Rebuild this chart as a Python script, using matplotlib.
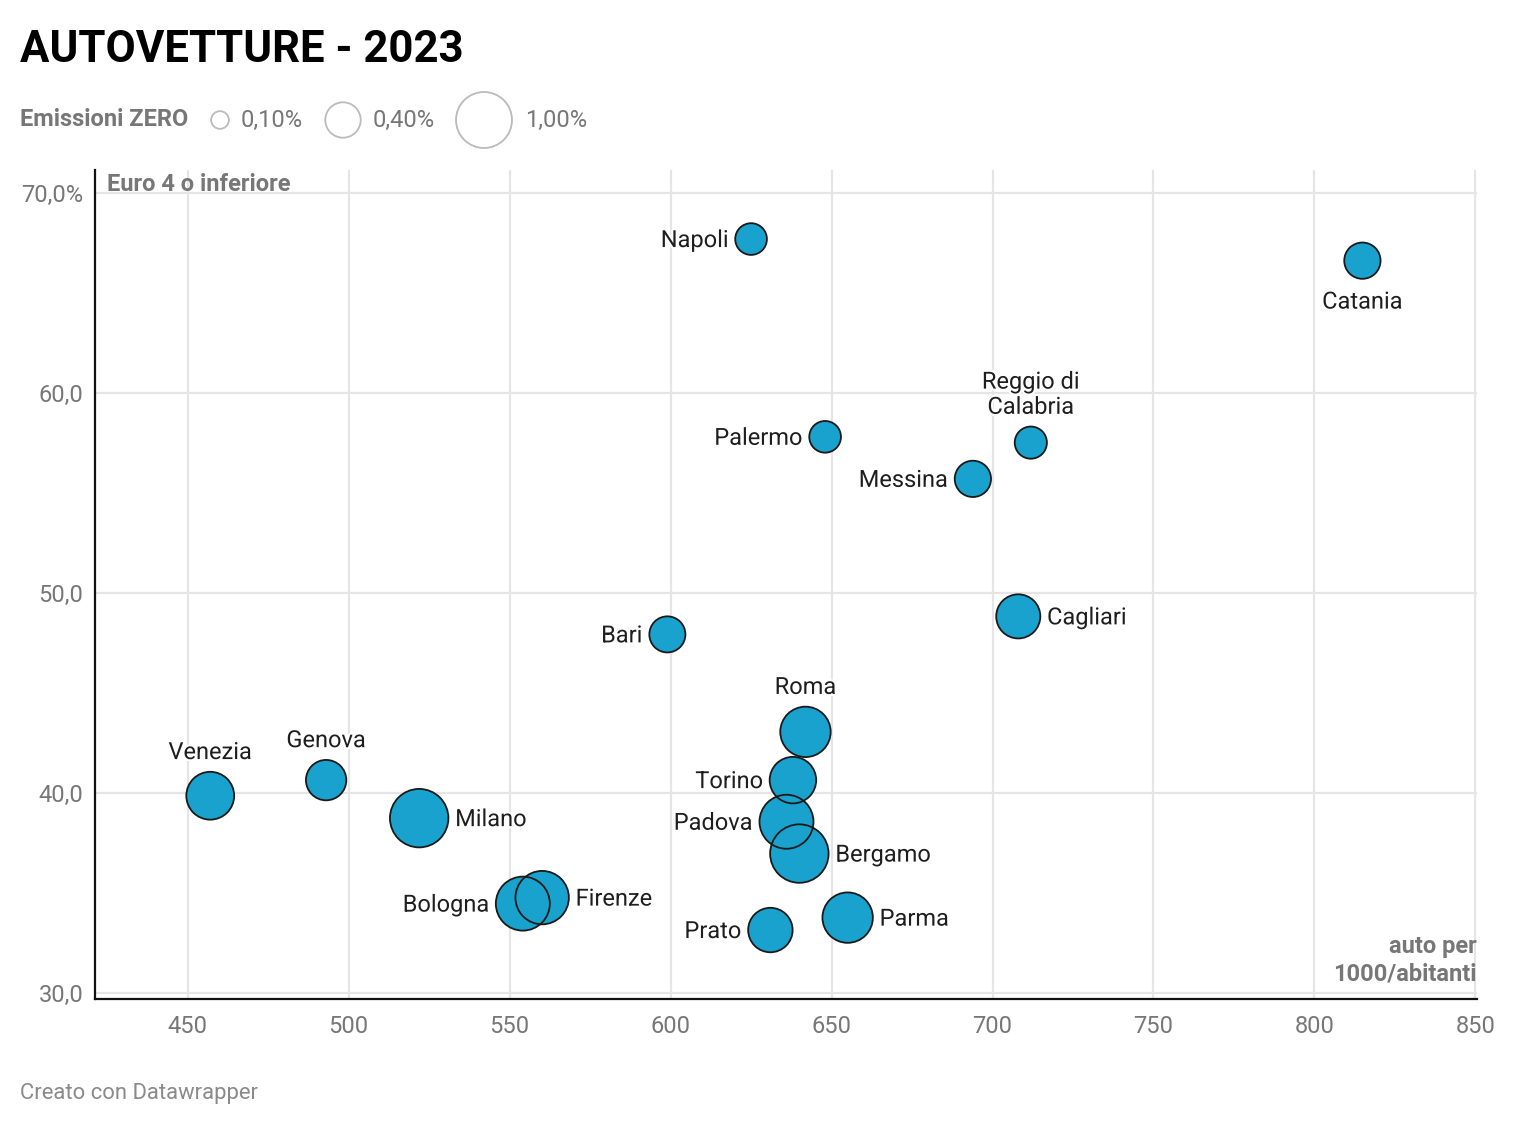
import numpy as np
import matplotlib
matplotlib.use("Agg")
import matplotlib.pyplot as plt
import matplotlib.patheffects as pe
from matplotlib.ticker import FuncFormatter

plt.rcParams['font.family'] = ['Roboto', 'DejaVu Sans']

# data
cities = ["Napoli", "Catania", "Palermo", "Reggio di\nCalabria", "Messina", "Cagliari", "Bari",
          "Roma", "Torino", "Padova", "Bergamo", "Parma", "Prato", "Firenze", "Bologna",
          "Milano", "Genova", "Venezia"]
auto_per_1000 = [625.0, 814.9, 648.0, 711.9, 693.9, 708.0, 599.0, 641.9, 638.0, 636.0,
                 640.0, 655.0, 631.0, 560.1, 554.1, 521.9, 493.0, 457.0]
euro4_share = [67.68, 66.60, 57.80, 57.51, 55.70, 48.83, 47.93, 43.06, 40.65, 38.57,
               36.98, 33.78, 33.16, 34.78, 34.48, 38.75, 40.65, 39.87]
zero_emission = [0.32, 0.42, 0.32, 0.33, 0.42, 0.62, 0.415, 0.81, 0.69, 0.93,
                 1.09, 0.81, 0.63, 0.91, 0.93, 1.09, 0.52, 0.73]

legend_values = [0.10, 0.40, 1.00]
legend_labels = ["0,10%", "0,40%", "1,00%"]

x_ticks = [450, 500, 550, 600, 650, 700, 750, 800, 850]
y_ticks = [30, 40, 50, 60, 70]

# where each label sits relative to its bubble
label_side = {"Napoli": "left", "Catania": "below", "Palermo": "left",
              "Reggio di\nCalabria": "above", "Messina": "left", "Cagliari": "right",
              "Bari": "left", "Roma": "above", "Torino": "left", "Padova": "left",
              "Bergamo": "right", "Parma": "right", "Prato": "left", "Firenze": "right",
              "Bologna": "left", "Milano": "right", "Genova": "above", "Venezia": "above"}

W, H, DPI = 1516, 1126, 100
R_MAX = 28.0          # radius in px of a 1,00% bubble
BLUE = "#19a2cd"
GREY = "#777777"
FS = 17


def radius(v):
    return R_MAX * np.sqrt(v)


def size(v):
    return (2 * radius(np.asarray(v)) * 72.0 / DPI) ** 2


def fx(x):
    return x / W


def fy(y):
    return 1 - y / H


fig = plt.figure(figsize=(W / DPI, H / DPI), dpi=DPI)
ax = fig.add_axes([fx(95), fy(999.3), fx(1477) - fx(95), fy(170) - fy(999.3)])

ax.set_xlim(421.2, 850.5)
ax.set_ylim(29.7, 71.13)
ax.set_xticks(x_ticks)
ax.set_yticks(y_ticks)
ax.yaxis.set_major_formatter(FuncFormatter(
    lambda v, p: ("%.1f" % v).replace(".", ",") + ("%" if v == 70 else "")))
ax.tick_params(length=0, labelsize=FS, labelcolor=GREY)
ax.tick_params(axis="x", pad=11.3)
ax.tick_params(axis="y", pad=8.5)
ax.grid(True, color="#e5e5e5", linewidth=1.6)
ax.set_axisbelow(True)
for s in ["top", "right"]:
    ax.spines[s].set_visible(False)
for s in ["left", "bottom"]:
    ax.spines[s].set_linewidth(1.6)
    ax.spines[s].set_color("#111111")

# fills first, then outlines on top so overlaps show both rings
ax.scatter(auto_per_1000, euro4_share, s=size(zero_emission), color=BLUE,
           linewidths=0, zorder=3)
ax.scatter(auto_per_1000, euro4_share, s=size(zero_emission), facecolors="none",
           edgecolors="#1a1a1a", linewidths=1.3, zorder=4)

halo = [pe.withStroke(linewidth=3, foreground="white")]
for name, x, y, v in zip(cities, auto_per_1000, euro4_share, zero_emission):
    r = radius(v) + 0.75
    side = label_side[name]
    if side == "left":
        off, ha, va = (-(r + 6), -1.5), "right", "center"
    elif side == "right":
        off, ha, va = (r + 6, -1.5), "left", "center"
    elif side == "above":
        off, ha, va = (0, r + 7), "center", "bottom"
    else:
        off, ha, va = (0, -(r + 11)), "center", "top"
    ax.annotate(name, (x, y), xytext=off, textcoords="offset pixels", ha=ha, va=va,
                fontsize=FS, color="#1e1e1e", linespacing=1.12, path_effects=halo,
                zorder=5)

# overlay in pixel coordinates for legend bubbles
ov = fig.add_axes([0, 0, 1, 1], zorder=10)
ov.set_xlim(0, W)
ov.set_ylim(H, 0)
ov.axis("off")
ov.patch.set_alpha(0)
leg_x = [220, 343, 484]
leg_lx = [241, 373, 525]
ov.scatter(leg_x, [120] * 3, s=size(legend_values), facecolors="none",
           edgecolors="#bbbbbb", linewidths=1.3)
for lx, lab in zip(leg_lx, legend_labels):
    ov.text(lx, 120, lab, ha="left", va="center", fontsize=FS, color=GREY)

fig.text(fx(20), fy(62), "AUTOVETTURE - 2023", fontsize=31.5, fontweight="bold",
         color="#000000", ha="left", va="baseline")
fig.text(fx(20), fy(120), "Emissioni ZERO", fontsize=FS, fontweight="bold",
         color=GREY, ha="left", va="center")
fig.text(fx(107), fy(184), "Euro 4 o inferiore", fontsize=FS, fontweight="bold",
         color=GREY, ha="left", va="center")
fig.text(fx(1477), fy(947), "auto per", fontsize=FS, fontweight="bold",
         color=GREY, ha="right", va="center")
fig.text(fx(1477), fy(974), "1000/abitanti", fontsize=FS, fontweight="bold",
         color=GREY, ha="right", va="center")
fig.text(fx(20), fy(1093), "Creato con Datawrapper", fontsize=15.8,
         color="#8a8a8a", ha="left", va="center")

fig.savefig("out.png", dpi=DPI)
